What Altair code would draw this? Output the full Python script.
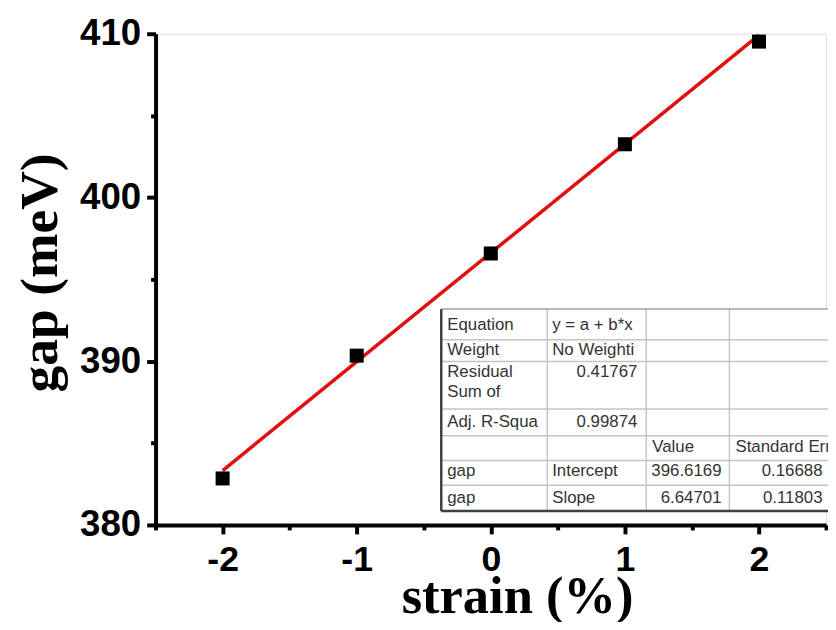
import altair as alt
import pandas as pd

# ---- data ----
strain = [-2, -1, 0, 1, 2]
gap = [382.84, 390.34, 396.58, 403.25, 409.52]
fit_intercept = 396.6169
fit_slope = 6.64701
x_ticks = [-2, -1, 0, 1, 2]
x_minor = [-2.5, -1.5, -0.5, 0.5, 1.5, 2.5]
y_ticks = [380, 390, 400, 410]
y_minor = [385, 395, 405]

# fit-result table contents
tbl_col1 = ["Equation", "Weight", "Residual", "Sum of", "Adj. R-Squa", "gap", "gap"]
tbl_col2 = ["y = a + b*x", "No Weighti", "Intercept", "Slope"]
tbl_nums = ["0.41767", "0.99874"]
tbl_head = ["Value", "Standard Err"]
tbl_vals = ["396.6169", "6.64701"]
tbl_errs = ["0.16688", "0.11803"]

# ---- layout helpers (pixel -> data coordinates, for the inset table) ----
X0, PXU = 495.0, 677 / 5.0
Y0PX, PYU = 527.0, 496 / 30.0
def dx(px):
    return (px - X0) / PXU
def dy(py):
    return 380 + (Y0PX - py) / PYU

pts = pd.DataFrame({"strain": strain, "gap": gap})
fit = pd.DataFrame({"strain": [min(strain), max(strain)]})

LABEL_FONT = "Liberation Sans"
TITLE_FONT = "Liberation Serif"
HYPHEN = "datum.value < 0 ? '-' + abs(datum.value) : '' + datum.value"

x_major_axis = alt.Axis(values=x_ticks, orient="bottom", grid=False, domainColor="black",
                        domainWidth=4, tickColor="black", tickWidth=4, tickSize=9,
                        labelFont=LABEL_FONT, labelFontSize=36, labelFontWeight="bold",
                        labelColor="black", labelPadding=9, labelExpr=HYPHEN,
                        title="strain (%)", titleFont=TITLE_FONT, titleFontSize=53,
                        titleFontWeight="bold", titleColor="black", titleX=365, titleY=88,
                        titleBaseline="alphabetic", titleAlign="center")
y_major_axis = alt.Axis(values=y_ticks, orient="left", grid=False, domainColor="black",
                        domainWidth=4, tickColor="black", tickWidth=4, tickSize=9,
                        labelFont=LABEL_FONT, labelFontSize=37, labelFontWeight="bold",
                        labelColor="black", labelPadding=6, labelExpr=HYPHEN,
                        title="gap (meV)", titleFont=TITLE_FONT, titleFontSize=54,
                        titleFontWeight="bold", titleColor="black", titleX=-100, titleY=241,
                        titleBaseline="alphabetic", titleAlign="center", titleAngle=270)
x_minor_axis = alt.Axis(values=x_minor, orient="bottom", grid=False, domain=False, labels=False,
                        tickColor="black", tickWidth=4, tickSize=5, title=None)
y_minor_axis = alt.Axis(values=y_minor, orient="left", grid=False, domain=False, labels=False,
                        tickColor="black", tickWidth=4, tickSize=5, title=None)

xs = alt.Scale(domain=[-2.5, 2.5], nice=False, zero=False)
ys = alt.Scale(domain=[380, 410], nice=False, zero=False)

line = alt.Chart(fit).transform_calculate(
    gap=f"{fit_intercept} + {fit_slope} * datum.strain"
).mark_line(color="#e01010", strokeWidth=3.5).encode(
    x=alt.X("strain:Q", scale=xs, axis=x_minor_axis),
    y=alt.Y("gap:Q", scale=ys, axis=y_minor_axis),
)

points = alt.Chart(pts).mark_square(size=200, color="black", opacity=1).encode(
    x=alt.X("strain:Q", scale=xs, axis=x_major_axis),
    y=alt.Y("gap:Q", scale=ys, axis=y_major_axis),
)

# ---- inset table ----
T_LEFT, T_RIGHT, T_TOP, T_BOT = 445, 845, 309, 513
row_lines = [340, 362, 410, 437, 462, 487]
col_lines = [552, 652, 736]

h_light = pd.DataFrame({"x": [dx(T_LEFT)] * len(row_lines), "x2": [dx(T_RIGHT)] * len(row_lines),
                        "y": [dy(r) for r in row_lines]})
v_light = pd.DataFrame({"x": [dx(c) for c in col_lines], "y": [dy(T_TOP)] * len(col_lines),
                        "y2": [dy(T_BOT)] * len(col_lines)})
top_line = pd.DataFrame({"x": [dx(T_LEFT)], "x2": [dx(T_RIGHT)], "y": [dy(T_TOP)]})
bot_line = pd.DataFrame({"x": [dx(T_LEFT)], "x2": [dx(T_RIGHT)], "y": [dy(T_BOT)]})
left_line = pd.DataFrame({"x": [dx(T_LEFT)], "y": [dy(T_TOP)], "y2": [dy(T_BOT)]})

NX = alt.X("x:Q", scale=xs, axis=None)
NY = alt.Y("y:Q", scale=ys, axis=None)

bg = alt.Chart(pd.DataFrame({"x": [dx(T_LEFT)], "x2": [dx(T_RIGHT)], "y": [dy(T_TOP)], "y2": [dy(T_BOT)]})
               ).mark_rect(color="white").encode(x=NX, x2="x2:Q", y=NY, y2="y2:Q")

hl = alt.Chart(h_light).mark_rule(color="#c4c4c4", strokeWidth=1.5).encode(x=NX, x2="x2:Q", y=NY)
vl = alt.Chart(v_light).mark_rule(color="#c4c4c4", strokeWidth=1.5).encode(x=NX, y=NY, y2="y2:Q")
tl = alt.Chart(top_line).mark_rule(color="#a0a0a0", strokeWidth=1.5).encode(x=NX, x2="x2:Q", y=NY)
bl = alt.Chart(bot_line).mark_rule(color="#404040", strokeWidth=2.5).encode(x=NX, x2="x2:Q", y=NY)
ll = alt.Chart(left_line).mark_rule(color="#404040", strokeWidth=2.5).encode(x=NX, y=NY, y2="y2:Q")

c1_base = [330, 355, 378, 398, 428, 478, 505]
c2_base = [330, 355, 478, 505]
left_texts = pd.DataFrame({
    "t": tbl_col1 + tbl_col2 + tbl_head,
    "x": [dx(451)] * len(tbl_col1) + [dx(557)] * len(tbl_col2) + [dx(658), dx(742)],
    "y": [dy(b) for b in c1_base] + [dy(b) for b in c2_base] + [dy(453)] * 2,
})
right_texts = pd.DataFrame({
    "t": tbl_nums + tbl_vals + tbl_errs,
    "x": [dx(643)] * 2 + [dx(728)] * 2 + [dx(830)] * 2,
    "y": [dy(378), dy(428), dy(478), dy(505), dy(478), dy(505)],
})
txt_l = alt.Chart(left_texts).mark_text(align="left", baseline="alphabetic", font=LABEL_FONT,
                                         fontSize=17, color="#333333").encode(
    x=NX, y=NY, text="t:N")
txt_r = alt.Chart(right_texts).mark_text(align="right", baseline="alphabetic", font=LABEL_FONT,
                                          fontSize=17, color="#333333").encode(
    x=NX, y=NY, text="t:N")

chart = alt.layer(line, points, bg, hl, vl, tl, bl, ll, txt_l, txt_r).resolve_axis(
    x="independent", y="independent"
).properties(
    width=677, height=496,
    autosize=alt.AutoSizeParams(type="none"),
    padding={"left": 149, "top": 23, "right": 2, "bottom": 95},
).configure_view(stroke=None).configure(background="white")

chart.save("out.html", embed_options={"renderer": "svg", "actions": False})
